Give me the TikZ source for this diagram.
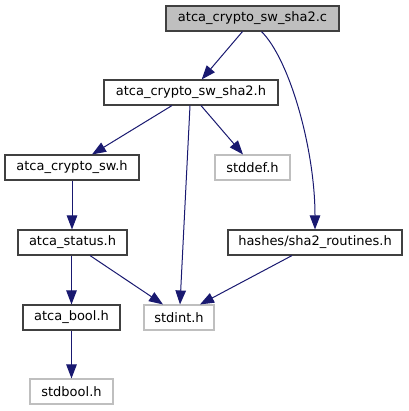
\documentclass[tikz,border=0pt]{standalone}
\usepackage{fontspec}
\setmainfont{DejaVu Sans}
\usetikzlibrary{arrows.meta}
\definecolor{edgec}{HTML}{191970}
\definecolor{boxc}{HTML}{404040}
\definecolor{grayb}{HTML}{BFBFBF}
\begin{document}
\begin{tikzpicture}[x=1pt,y=-1pt,
  filebox/.style={draw=boxc,line width=1.1pt,fill=white,minimum height=25pt,inner sep=0pt,font=\fontsize{13}{15}\selectfont},
  sysbox/.style={filebox,draw=grayb},
  edge/.style={draw=edgec,line width=1pt,-{Triangle[length=14pt,width=10.5pt]}}]
\useasboundingbox (0,0) rectangle (408,411);
\node[filebox,fill=grayb,minimum width=173pt] (c) at (252.5,18.5) {atca\_crypto\_sw\_sha2.c};
\node[filebox,minimum width=174pt] (h) at (191,92.5) {atca\_crypto\_sw\_sha2.h};
\node[filebox,minimum width=134pt] (sw) at (72,167.5) {atca\_crypto\_sw.h};
\node[sysbox,minimum width=75pt] (stddef) at (252.5,167.5) {stddef.h};
\node[filebox,minimum width=109pt] (status) at (72.5,242.5) {atca\_status.h};
\node[filebox,minimum width=174pt] (routines) at (315,242.5) {hashes/sha2\_routines.h};
\node[filebox,minimum width=97pt] (bool) at (71.5,317.5) {atca\_bool.h};
\node[sysbox,minimum width=70pt] (stdint) at (179,317.5) {stdint.h};
\node[sysbox,minimum width=83pt] (stdbool) at (71.5,391.5) {stdbool.h};

\draw[edge] ([xshift=-10pt]c.south) -- ([xshift=10.7pt]h.north);
\draw[edge] ([xshift=9pt]c.south) .. controls (290,60) and (315,150) .. (routines.north);
\draw[edge] ([xshift=-19pt]h.south) -- ([xshift=20pt]sw.north);
\draw[edge] ([xshift=-1pt]h.south) -- ([xshift=1pt]stdint.north);
\draw[edge] ([xshift=10pt]h.south) -- ([xshift=-9.5pt]stddef.north);
\draw[edge] (sw.south) -- (status.north -| sw.south);
\draw[edge] (status.south -| bool.north) -- (bool.north);
\draw[edge] ([xshift=17.5pt]status.south) -- ([xshift=-16pt]stdint.north);
\draw[edge] ([xshift=-23pt]routines.south) -- ([xshift=21pt]stdint.north);
\draw[edge] (bool.south) -- (stdbool.north);
\end{tikzpicture}
\end{document}
